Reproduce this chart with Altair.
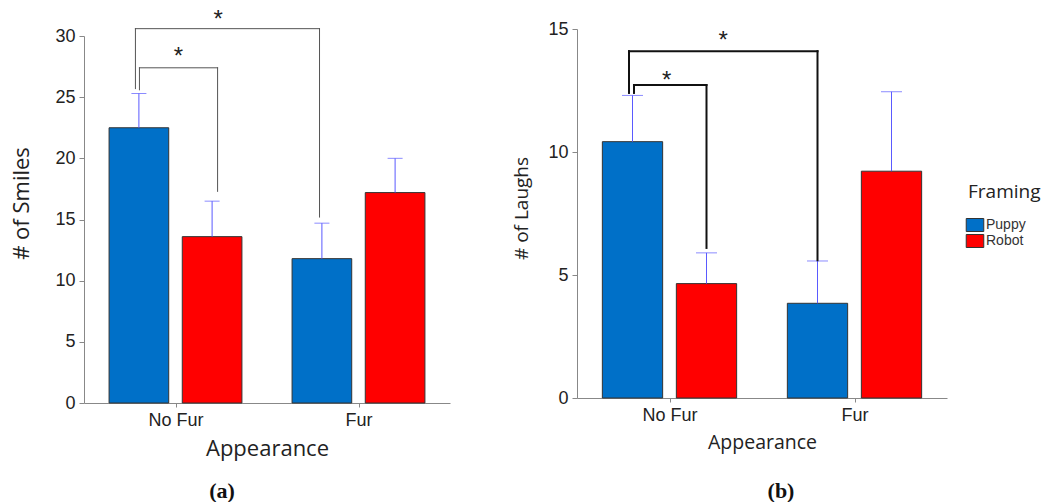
import json
import altair as alt
import pandas as pd

# ---------------- data ----------------
appearance = ["No Fur", "Fur"]
framing = ["Puppy", "Robot"]

# order: (No Fur, Puppy), (No Fur, Robot), (Fur, Puppy), (Fur, Robot)
smiles_mean = [22.5, 13.6, 11.8, 17.2]
smiles_upper = [25.3, 16.5, 14.7, 20.0]
laughs_mean = [10.42, 4.65, 3.85, 9.22]
laughs_upper = [12.3, 5.9, 5.57, 12.45]

# significance brackets: from-bar, to-bar, top height, from-leg end, to-leg end
smiles_br_from = [("No Fur", "Puppy"), ("No Fur", "Puppy")]
smiles_br_to = [("No Fur", "Robot"), ("Fur", "Puppy")]
smiles_br_top = [27.4, 30.6]
smiles_br_from_end = [25.6, 25.7]
smiles_br_to_end = [17.3, 15.2]
smiles_star_y = [28.6, 31.6]

laughs_br_from = [("No Fur", "Puppy"), ("No Fur", "Puppy")]
laughs_br_to = [("No Fur", "Robot"), ("Fur", "Puppy")]
laughs_br_top = [12.72, 14.1]
laughs_br_from_end = [12.4, 12.4]
laughs_br_to_end = [6.1, 5.6]
laughs_star_y = [13.05, 14.67]

# ---------------- layout helpers (not data) ----------------
POS = {a: i + 1.0 for i, a in enumerate(appearance)}
OFF = {"Puppy": -0.2, "Robot": 0.2}
HALF = 0.163
BLUE = "#0070C8"
RED = "#FF0000"
ERR = "#5a5aff"
TICK_FONT = "Liberation Sans"
TITLE_FONT = "Open Sans"


def center(key):
    return POS[key[0]] + OFF[key[1]]


def bars_df(means, uppers):
    rows = []
    i = 0
    for a in appearance:
        for f in framing:
            c = POS[a] + OFF[f]
            rows.append(dict(Appearance=a, Framing=f, mean=means[i], upper=uppers[i],
                             x=c - HALF, x2=c + HALF, xc=c))
            i += 1
    return pd.DataFrame(rows)


def bracket_dfs(froms, tos, tops, fends, tends, stars, nudges, fracs):
    segs, st = [], []
    for k in range(len(froms)):
        xl = center(froms[k]) + nudges[k][0]
        xr = center(tos[k]) + nudges[k][1]
        t = tops[k]
        segs.append(dict(x=xl, x2=xl, y=fends[k], y2=t))
        segs.append(dict(x=xl, x2=xr, y=t, y2=t))
        segs.append(dict(x=xr, x2=xr, y=tends[k], y2=t))
        st.append(dict(x=xl + (xr - xl) * fracs[k], y=stars[k]))
    return pd.DataFrame(segs), pd.DataFrame(st)


def panel(means, uppers, br, ytitle, ymax, width, height, yrange, cap, brcolor, brwidth,
          caption, legend, tfs, ytfs, ytpad, title_y, cap_dx, cap_off):
    df = bars_df(means, uppers)
    segs, stars = br
    xs = alt.Scale(domain=[0.5, 2.5], nice=False, zero=False)
    ys = alt.Scale(domain=[0, ymax], nice=False, range=yrange)
    xaxis = alt.Axis(values=[1, 2], labelExpr=f"{json.dumps(appearance)}[datum.value - 1]",
                     title="Appearance", grid=False, domainColor="#888", tickColor="#888",
                     tickSize=4, labelFont=TICK_FONT, labelFontSize=18, labelColor="#222",
                     labelPadding=4, titleFont=TITLE_FONT, titleFontSize=tfs,
                     titleFontWeight="normal", titleColor="#222", titlePadding=9)
    yaxis = alt.Axis(values=list(range(0, ymax + 1, 5)), title=ytitle, grid=False,
                     domainColor="#888", tickColor="#888", tickSize=5, labelFont=TICK_FONT,
                     labelFontSize=18, labelColor="#222", labelPadding=4,
                     titleFont=TITLE_FONT, titleFontSize=ytfs, titleFontWeight="normal",
                     titleColor="#222", titlePadding=ytpad, titleY=title_y)
    bars = alt.Chart(df).mark_bar(stroke="#333", strokeWidth=1).encode(
        x=alt.X("x:Q", scale=xs, axis=xaxis),
        x2="x2:Q",
        y=alt.Y("mean:Q", scale=ys, axis=yaxis),
        y2=alt.datum(0),
        color=alt.Color("Framing:N", scale=alt.Scale(domain=framing, range=[BLUE, RED]),
                        legend=legend),
    )
    err = alt.Chart(df).mark_rule(color=ERR, strokeWidth=1).encode(
        x="xc:Q", y="mean:Q", y2="upper:Q")
    caps = alt.Chart(df).mark_tick(orient="horizontal", size=cap, thickness=1, color=ERR).encode(
        x="xc:Q", y="upper:Q")
    brk = alt.Chart(segs).mark_rule(color=brcolor, strokeWidth=brwidth, strokeCap="square").encode(
        x="x:Q", x2="x2:Q", y="y:Q", y2="y2:Q")
    st = alt.Chart(stars).mark_text(text="*", font=TICK_FONT, fontSize=24, baseline="middle",
                                    color="#222", dy=4).encode(x="x:Q", y="y:Q")
    return alt.layer(bars, err, caps, brk, st).properties(
        width=width, height=height,
        title=alt.TitleParams(caption, orient="bottom", font="Liberation Serif", fontSize=22,
                              fontWeight="bold", color="#111", offset=cap_off, dx=cap_dx),
    )


left = panel(smiles_mean, smiles_upper,
             bracket_dfs(smiles_br_from, smiles_br_to, smiles_br_top, smiles_br_from_end,
                         smiles_br_to_end, smiles_star_y,
                         [(0.003, 0.03), (-0.019, -0.013)], [0.5, 0.45]),
             "# of Smiles", 30, 366, 367, [367, 0], 15, "#555", 1, "(a)", None,
             22, 22, 21, 167, -45, 22)

right = panel(laughs_mean, laughs_upper,
              bracket_dfs(laughs_br_from, laughs_br_to, laughs_br_top, laughs_br_from_end,
                          laughs_br_to_end, laughs_star_y,
                          [(0.008, 0.0), (-0.019, 0.0)], [0.45, 0.5]),
              "# of Laughs", 15, 370, 362, [362, -7], 21, "#111", 2, "(b)",
              alt.Legend(title="Framing", orient="none", legendX=391, legendY=147,
                         titleFont=TITLE_FONT, titleFontSize=19, titleFontWeight="normal",
                         titleColor="#222", labelFont=TICK_FONT, labelFontSize=14,
                         labelColor="#333", symbolType="M-1.35,-1H1.35V1H-1.35Z",
                         symbolSize=169, symbolStrokeColor="#333", symbolStrokeWidth=1,
                         symbolOpacity=1, rowPadding=-4, titlePadding=16),
              19.5, 19, 16, 172, 19, 29)

chart = alt.hconcat(left, right, spacing=62).resolve_scale(color="independent").properties(
    padding={"left": 2, "top": 0, "right": 0, "bottom": 0}).configure_view(stroke=None)

chart.save("out.html", embed_options={"renderer": "svg", "actions": False})
